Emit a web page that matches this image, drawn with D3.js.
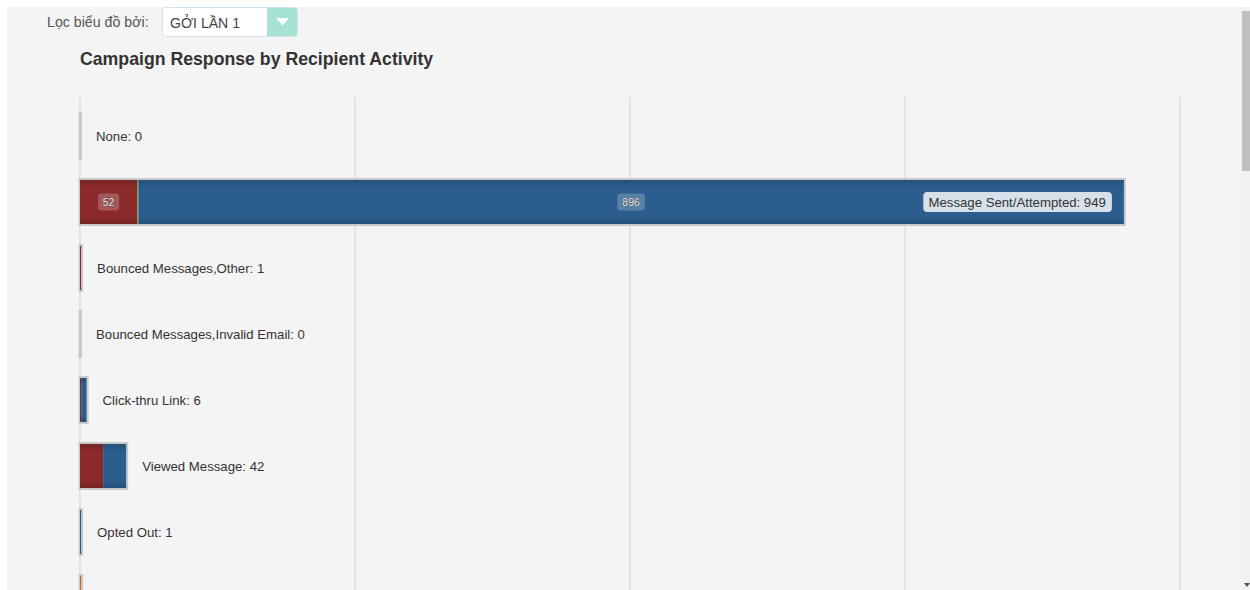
<!DOCTYPE html>
<html><head><meta charset="utf-8">
<script src="https://cdn.jsdelivr.net/npm/d3@7/dist/d3.min.js"></script>
<style>
html,body{margin:0;padding:0;background:#fff;overflow:hidden;}
svg{display:block;font-family:"Liberation Sans",Arial,sans-serif;}
</style></head>
<body>
<svg id="c" width="1250" height="590"></svg>
<script>
const categories = ["None","Message Sent/Attempted","Bounced Messages,Other","Bounced Messages,Invalid Email","Click-thru Link","Viewed Message","Opted Out","Forwarded"];
const redValues    = [0, 52, 1, 0, 1, 21, 0, 0];
const greenValues  = [0, 1, 0, 0, 0, 0, 0, 0];
const blueValues   = [0, 896, 0, 0, 5, 21, 1, 0];
const orangeValues = [0, 0, 0, 0, 0, 0, 0, 1];
const totals       = [0, 949, 1, 0, 6, 42, 1, 1];
const xTicks = [0, 250, 500, 750, 1000];
const colors = ["#8c2a2b", "#6d9b3a", "#2b5e8e", "#d2691e"];

const svg = d3.select("#c");
svg.append("rect").attr("x",0).attr("y",0).attr("width",1250).attr("height",590).attr("fill","#fff");
svg.append("rect").attr("x",7).attr("y",7).attr("width",1233).attr("height",583).attr("fill","#f4f4f4");
svg.append("rect").attr("x",1240).attr("y",7).attr("width",10).attr("height",583).attr("fill","#f1f1f1");
svg.append("rect").attr("x",1242).attr("y",11).attr("width",8).attr("height",160).attr("fill","#c1c1c1");
svg.append("path").attr("d","M1244,583 L1250,583 L1247,587 Z").attr("fill","#505050");

// filter control
svg.append("text").attr("x",47).attr("y",27).attr("font-size",14.2).attr("fill","#555").text("Lọc biểu đồ bởi:");
svg.append("rect").attr("x",162.5).attr("y",7.5).attr("width",135).attr("height",29).attr("rx",3)
  .attr("fill","#fff").attr("stroke","#cfe3f2");
svg.append("path").attr("d","M267,8 L294.5,8 Q297,8 297,10.5 L297,33.5 Q297,36 294.5,36 L267,36 Z").attr("fill","#a6e3d3");
svg.append("path").attr("d","M276,18 L289,18 L282.5,25.5 Z").attr("fill","#fff");
svg.append("text").attr("x",170).attr("y",28).attr("font-size",14.1).attr("fill","#444").text("GỞI LẦN 1");

// title
svg.append("text").attr("x",80).attr("y",65).attr("font-size",17.7).attr("font-weight","bold").attr("fill","#333")
  .text("Campaign Response by Recipient Activity");

const x = d3.scaleLinear().domain([0,1000]).range([80,1180]);
const y = d3.scaleBand().domain(categories).range([103, 103+66*8]).paddingInner(1/3).paddingOuter(1/6);

const defs = svg.append("defs");
colors.forEach((c,i)=>{
  const g = defs.append("linearGradient").attr("id","g"+i).attr("x1",0).attr("x2",0).attr("y1",0).attr("y2",1);
  const dk = d3.color(c).darker(0.45);
  g.append("stop").attr("offset","0%").attr("stop-color",dk);
  g.append("stop").attr("offset","18%").attr("stop-color",c);
  g.append("stop").attr("offset","82%").attr("stop-color",c);
  g.append("stop").attr("offset","100%").attr("stop-color",dk);
});
const clip = defs.append("clipPath").attr("id","plotclip");
clip.append("rect").attr("x",0).attr("y",0).attr("width",1240).attr("height",590);

const plot = svg.append("g").attr("clip-path","url(#plotclip)");

plot.append("g").selectAll("line").data(xTicks).join("line")
  .attr("x1",d=>x(d)).attr("x2",d=>x(d)).attr("y1",97).attr("y2",600)
  .attr("stroke","#dedede").attr("stroke-width",1.5);

const seriesValues = [redValues, greenValues, blueValues, orangeValues];
const rows = categories.map((c,i)=>({cat:c,total:totals[i],vals:seriesValues.map(s=>s[i])}));

rows.forEach((r)=>{
  const y0 = y(r.cat), h = y.bandwidth();
  const g = plot.append("g");
  g.append("rect").attr("x",x(0)-0.5).attr("y",y0-1).attr("width",Math.max(0,x(r.total)-x(0))+1.5).attr("height",h+2)
    .attr("fill","none").attr("stroke","#c9c9c9").attr("stroke-width",2);
  let acc = 0;
  r.vals.forEach((v,si)=>{
    if(v<=0) return;
    const xa = x(acc), xb = x(acc+v);
    g.append("rect").attr("x",xa).attr("y",y0).attr("width",xb-xa).attr("height",h).attr("fill",`url(#g${si})`);
    if(xb-xa>30){
      const cx=(xa+xb)/2, cy=y0+h/2;
      const t = String(v);
      const w = t.length*6.5+8;
      g.append("rect").attr("x",cx-w/2).attr("y",cy-8.5).attr("width",w).attr("height",17).attr("rx",3)
        .attr("fill","rgba(255,255,255,0.22)");
      g.append("text").attr("x",cx).attr("y",cy+4).attr("text-anchor","middle").attr("font-size",10.5)
        .attr("fill","#eee").attr("stroke","#333").attr("stroke-width",0.6).attr("paint-order","stroke").text(t);
    }
    acc += v;
  });
  const label = `${r.cat}: ${r.total}`;
  const xe = x(r.total);
  const cy = y0+h/2;
  if(cy + 6 > 590) return; // label lies below the visible area
  if(xe - x(0) > 300){
    const tw = label.length*6.8+5;
    g.append("rect").attr("x",xe-12-tw).attr("y",cy-10).attr("width",tw).attr("height",20).attr("rx",4)
      .attr("fill","#d8e1ea");
    g.append("text").attr("x",xe-18).attr("y",cy+4.5).attr("text-anchor","end").attr("font-size",13.2)
      .attr("fill","#333").text(label);
  } else {
    g.append("text").attr("x",xe+16).attr("y",cy+4.5).attr("font-size",13.2).attr("fill","#333").text(label);
  }
});
</script>
</body></html>
